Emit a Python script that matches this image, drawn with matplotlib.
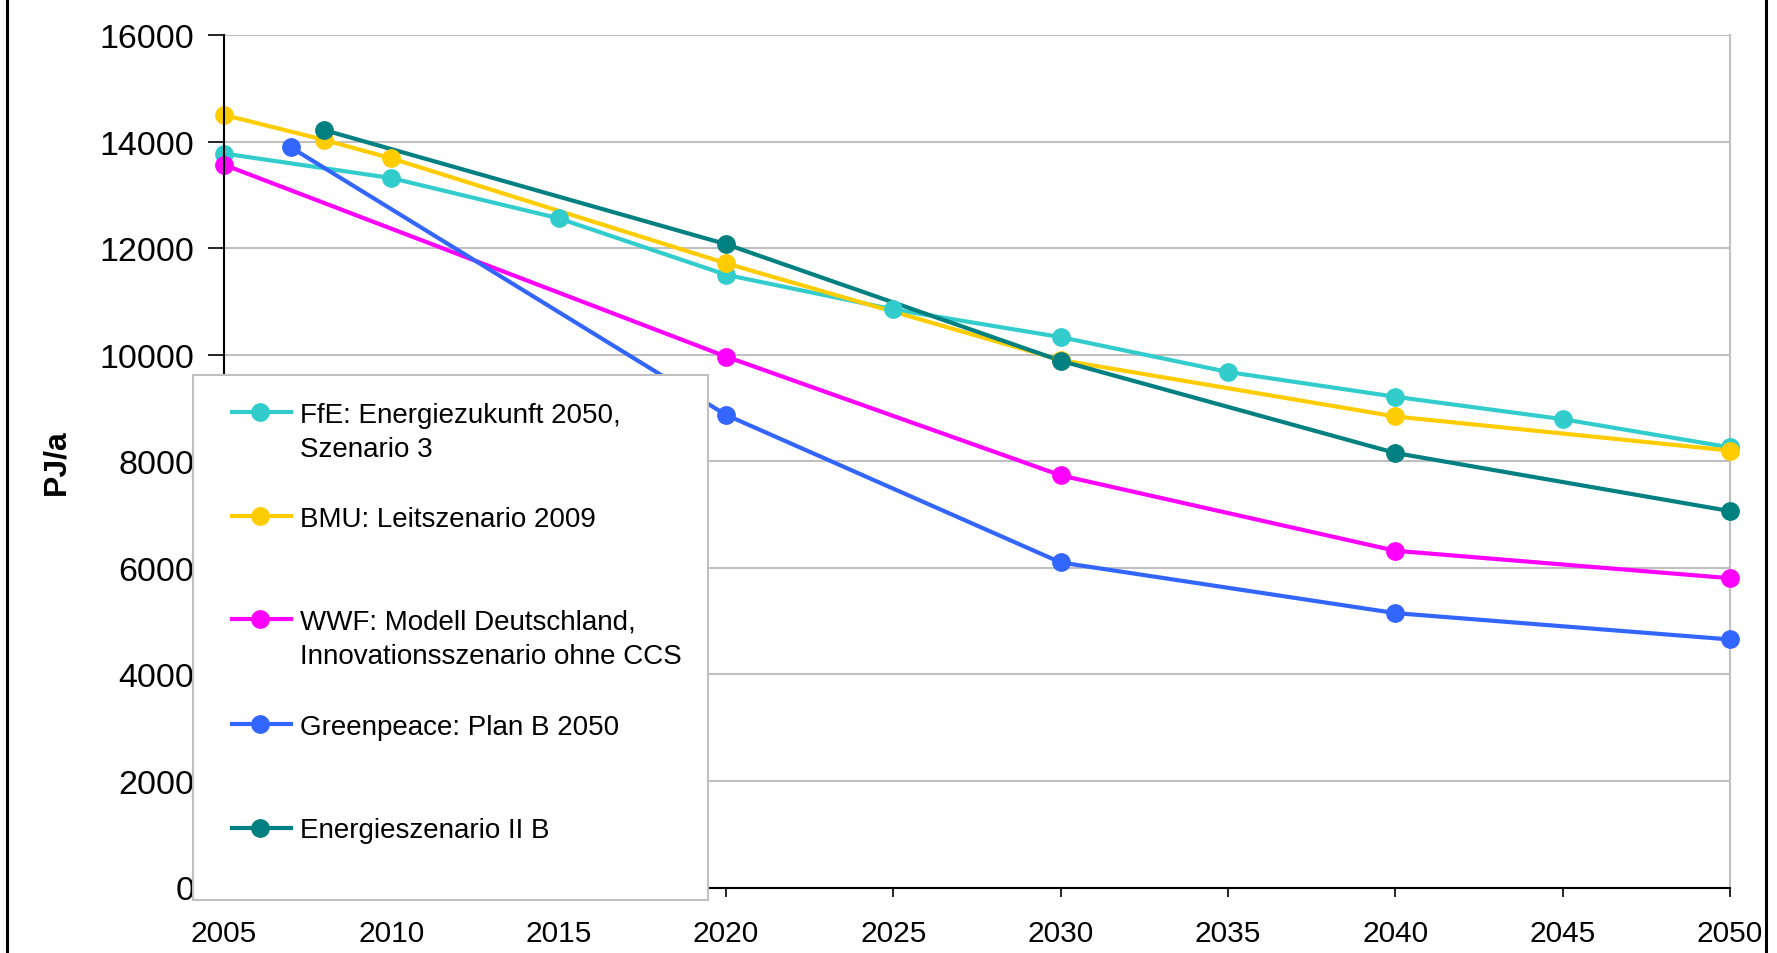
import matplotlib.pyplot as plt
from matplotlib.lines import Line2D
from matplotlib.patches import Rectangle

plt.rcParams['font.family'] = ['Liberation Sans', 'DejaVu Sans']

# Scenario data (PJ/a)
ffe_years = [2005, 2010, 2015, 2020, 2025, 2030, 2035, 2040, 2045, 2050]
ffe_values = [13775, 13315, 12560, 11500, 10850, 10330, 9675, 9210, 8790, 8260]

bmu_years = [2005, 2008, 2010, 2020, 2030, 2040, 2050]
bmu_values = [14500, 14030, 13685, 11715, 9900, 8840, 8200]

wwf_years = [2005, 2020, 2030, 2040, 2050]
wwf_values = [13565, 9965, 7735, 6320, 5805]

gp_years = [2007, 2020, 2030, 2040, 2050]
gp_values = [13890, 8870, 6100, 5150, 4655]

es_years = [2008, 2020, 2030, 2040, 2050]
es_values = [14215, 12075, 9885, 8155, 7065]

labels = ['FfE: Energiezukunft 2050,\nSzenario 3',
          'BMU: Leitszenario 2009',
          'WWF: Modell Deutschland,\nInnovationsszenario ohne CCS',
          'Greenpeace: Plan B 2050',
          'Energieszenario II B']
colors = ['#33CCCC', '#FFCC00', '#FF00FF', '#3366FF', '#008080']

x_ticks = list(range(2005, 2051, 5))
y_ticks = list(range(0, 16001, 2000))

series = [(ffe_years, ffe_values), (bmu_years, bmu_values), (wwf_years, wwf_values),
          (gp_years, gp_values), (es_years, es_values)]

W, H = 1777, 954
fig = plt.figure(figsize=(W / 100, H / 100), dpi=100)
ax = fig.add_axes([224 / W, 1 - 888.5 / H, (1730 - 224) / W, (888.5 - 36) / H])


def px(x, y):
    # pixel position (from top left) -> figure fraction
    return x / W, 1 - y / H


# lines first, then markers on top
for (xs, ys), c in zip(series, colors):
    ax.plot(xs, ys, color=c, lw=3.0, zorder=3, clip_on=False)
for (xs, ys), c in zip(series, colors):
    ax.plot(xs, ys, ls='none', marker='o', ms=12.5, color=c, zorder=4, clip_on=False)

ax.set_xlim(2005, 2050)
ax.set_ylim(0, 16000)
ax.set_xticks(x_ticks)
ax.set_yticks(y_ticks)
ax.tick_params(axis='y', direction='out', length=11.5, width=1.2, pad=10, labelsize=24.5)
ax.tick_params(axis='x', direction='out', length=6.5, width=1.2, pad=16, labelsize=21.5)

ax.yaxis.grid(True, color='#C0C0C0', lw=1.5)
ax.set_axisbelow(True)
ax.spines['left'].set_linewidth(1.5)
ax.spines['bottom'].set_linewidth(1.5)
ax.spines['left'].set_zorder(5)
ax.spines['bottom'].set_zorder(5)
ax.spines['right'].set_color('#C0C0C0')
ax.spines['right'].set_linewidth(1.5)
ax.spines['top'].set_visible(False)

ax.set_ylabel('PJ/a', fontsize=23, fontweight='bold')
ax.yaxis.set_label_coords((71 - 224) / (1730 - 224), (888.5 - 462) / (888.5 - 36))

# hand-built legend box, drawn above the axes (covers tick labels like the original)
x0, y0 = px(193, 901)
x1, y1 = px(708, 376)
fig.add_artist(Rectangle((x0, y0), x1 - x0, y1 - y0, transform=fig.transFigure,
                         facecolor='white', edgecolor='#C0C0C0', lw=1.5, zorder=10))
entry_y = [412.7, 516.8, 620, 725.3, 828.5]
for lab, c, ey in zip(labels, colors, entry_y):
    hx0, hy = px(232, ey)
    hx1, _ = px(291, ey)
    mx, _ = px(260, ey)
    fig.add_artist(Line2D([hx0, hx1], [hy, hy], transform=fig.transFigure,
                          color=c, lw=3.0, zorder=11))
    fig.add_artist(Line2D([mx], [hy], transform=fig.transFigure, marker='o',
                          ms=12.5, color=c, zorder=12))
    for i, line in enumerate(lab.split('\n')):
        tx, ty = px(300, ey + 10 + i * 34)
        fig.text(tx, ty, line, fontsize=20, va='baseline', ha='left', zorder=13)

# black frame lines at left and right edge
for bx in [7, 1766]:
    fx, _ = px(bx, 0)
    fig.add_artist(Line2D([fx, fx], [0, 1], transform=fig.transFigure,
                          color='black', lw=2.2, zorder=20))

plt.savefig('out.png', dpi=100)
